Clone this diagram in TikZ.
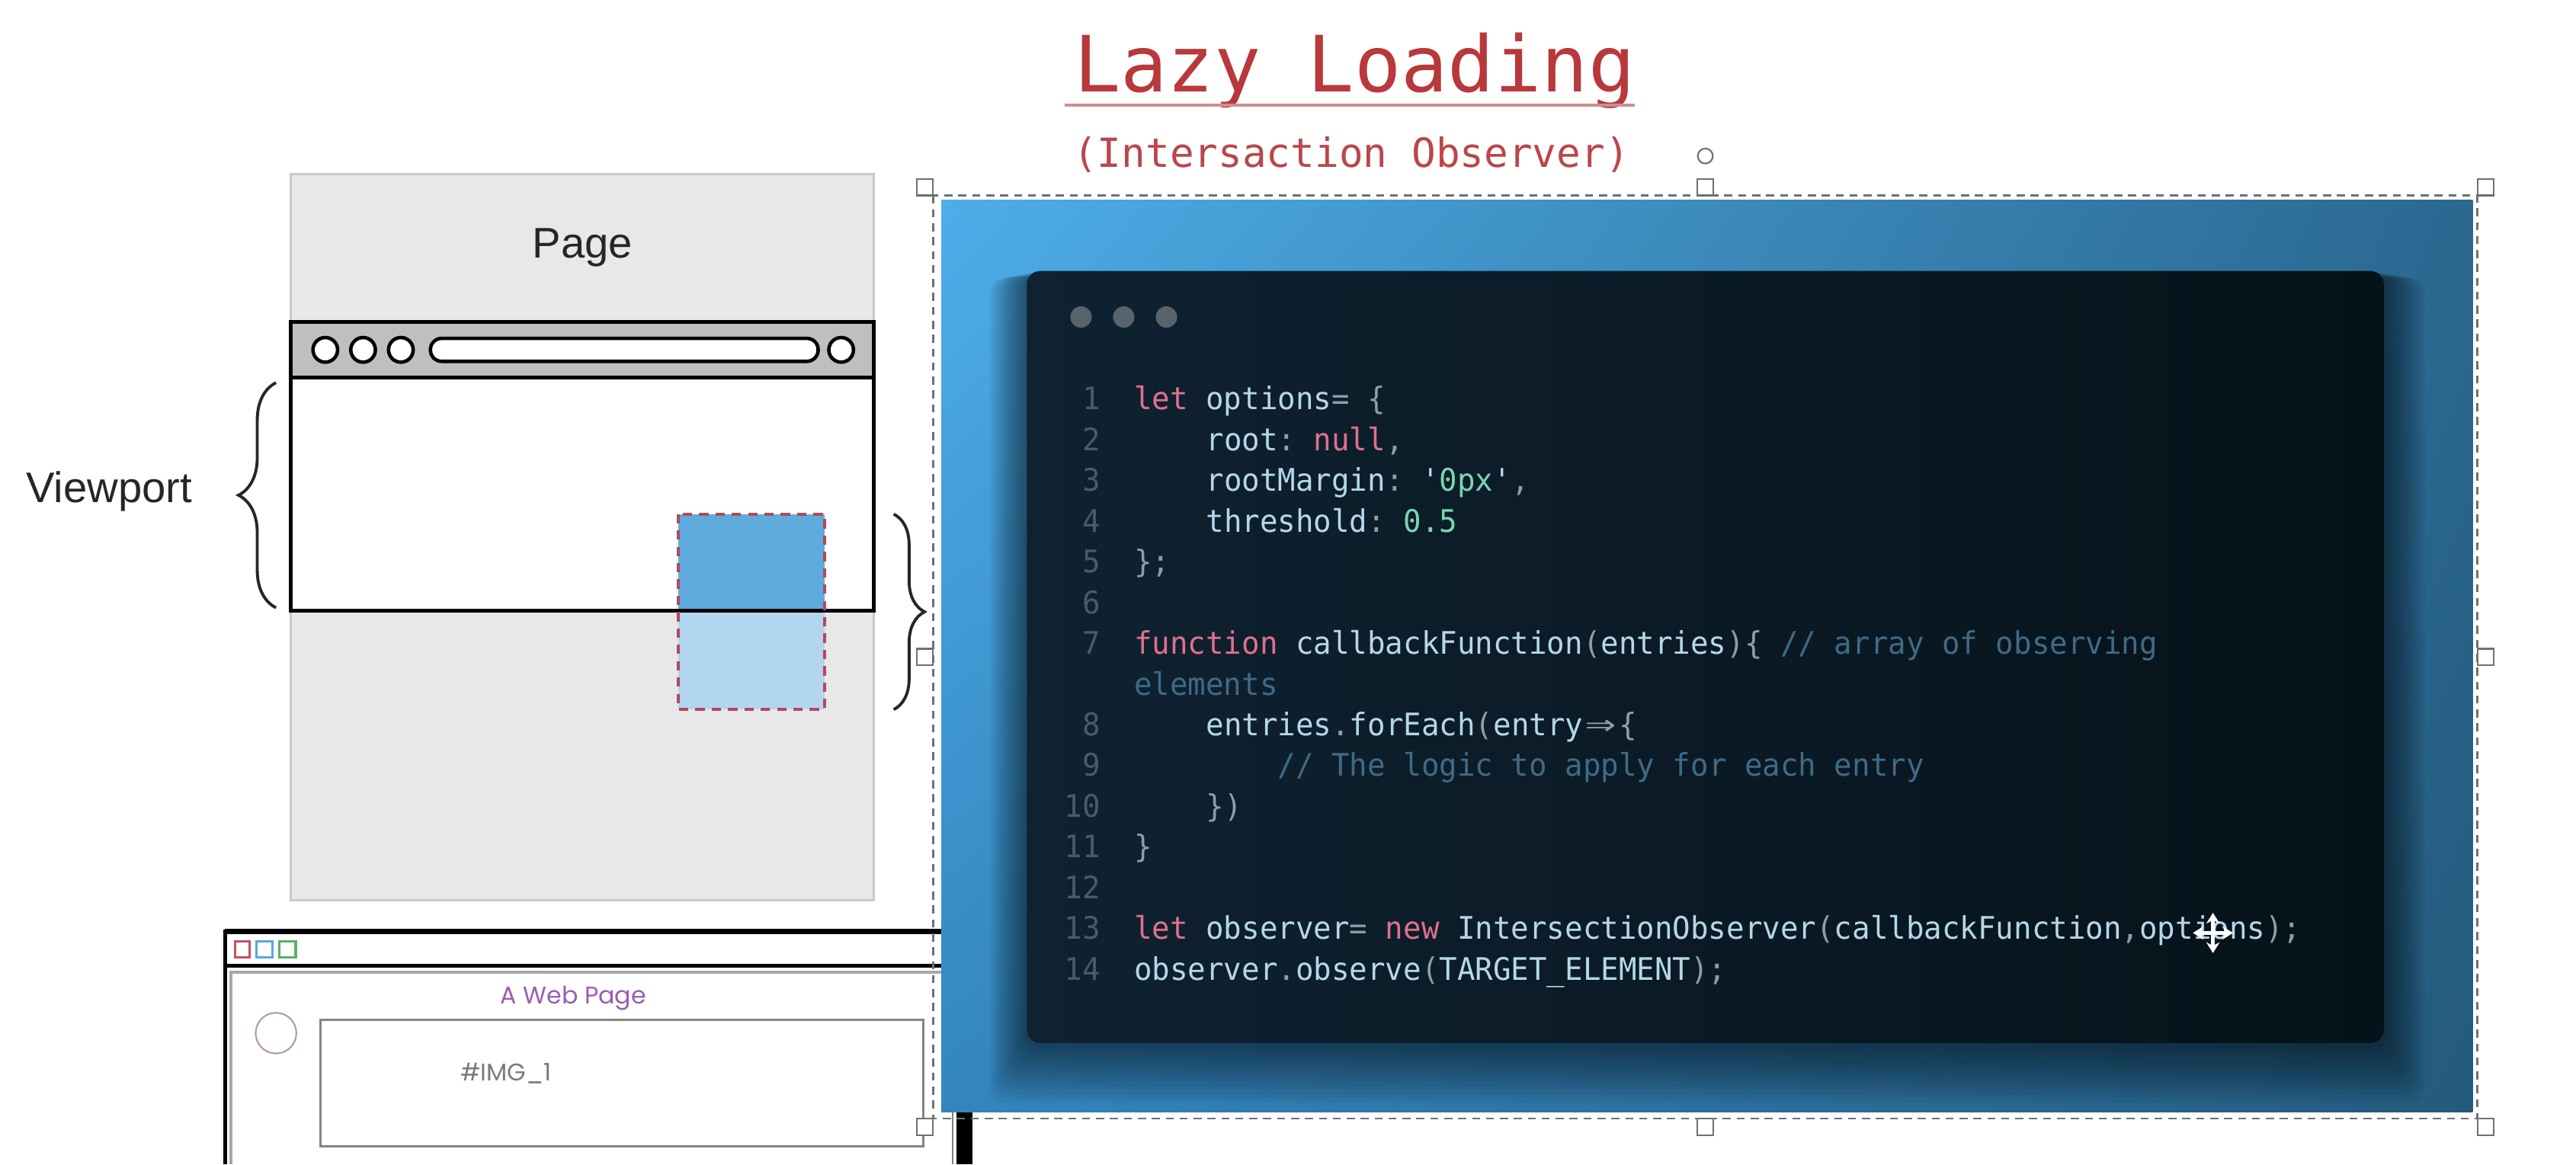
\documentclass[tikz,border=0pt]{standalone}
\usepackage{fontspec}
\usepackage{graphicx}
\usetikzlibrary{decorations.pathreplacing,arrows.meta,shadings}
\newfontfamily\arialf{Liberation Sans}
\newfontfamily\monof{DejaVu Sans Mono}
\newfontfamily\popf{Poppins}
\definecolor{titlered}{HTML}{B8383B}
\definecolor{subred}{HTML}{B9474B}
\definecolor{underl}{HTML}{CC8E90}
\definecolor{pagegray}{HTML}{E8E8E8}
\definecolor{pageedge}{HTML}{C9C9C9}
\definecolor{bargray}{HTML}{BFBFBF}
\definecolor{blueA}{HTML}{5FABDD}
\definecolor{blueB}{HTML}{B2D5F0}
\definecolor{dashred}{HTML}{B4485C}
\definecolor{selgray}{HTML}{707070}
\definecolor{imgTL}{HTML}{4DAEE9}
\definecolor{imgTR}{HTML}{2B6890}
\definecolor{imgBL}{HTML}{3485BE}
\definecolor{imgBR}{HTML}{245A7D}
\definecolor{cardL}{HTML}{0F2231}
\definecolor{cardR}{HTML}{061219}
\definecolor{dotgray}{HTML}{58636C}
\definecolor{ckw}{HTML}{E0708D}
\definecolor{cid}{HTML}{B4D8EA}
\definecolor{cstr}{HTML}{7DD3B0}
\definecolor{cpun}{HTML}{8C9EA9}
\definecolor{ccm}{HTML}{3F6A86}
\definecolor{clnum}{HTML}{4C5A64}
\definecolor{webpurple}{HTML}{9C5CB4}
\definecolor{imggray}{HTML}{858585}
\definecolor{txtgray}{HTML}{7A7A7A}
\definecolor{circbrown}{HTML}{B59C98}
\definecolor{sqred}{HTML}{C8505A}
\definecolor{sqblue}{HTML}{5AA8DC}
\definecolor{sqgreen}{HTML}{5DAF68}
\newcommand\Tkw[1]{\textcolor{ckw}{#1}}
\newcommand\Tpu[1]{\textcolor{cpun}{#1}}
\newcommand\Tst[1]{\textcolor{cstr}{#1}}
\newcommand\Tcm[1]{\textcolor{ccm}{#1}}
\newcommand\codesz{\monof\fontsize{11.6}{14}\selectfont\frenchspacing}
\newcommand\cnd[1]{\scalebox{0.96}[1]{#1}}
\begin{document}
\begin{tikzpicture}[x=0.02156cm,y=-0.02156cm,
  codeln/.style={anchor=base west, inner sep=0pt, font=\codesz, text=cid},
  lnum/.style={anchor=base east, inner sep=0pt, font=\codesz, text=clnum},
  lbl/.style={anchor=base, inner sep=0pt, font=\arialf\fontsize{16}{19}\selectfont, text=black!85},
  handle/.style={draw=selgray, fill=white, line width=0.6pt}]
\useasboundingbox (0,0) rectangle (1568,709);
\fill[white] (0,0) rectangle (1568,709);

% title
\node[anchor=base, inner sep=0pt, font=\monof\fontsize{29}{32}\selectfont, text=titlered] (title) at (824.5,56) {Lazy Loading};
\coordinate (ula) at (648,64);
\coordinate (ulb) at (995,64);
\draw[underl, line width=0.9pt] (ula) -- (ulb);
\node[anchor=base, inner sep=0pt, font=\monof\fontsize{15}{18}\selectfont, text=subred] (subtitle) at (822.5,102) {(Intersaction Observer)};

% left page diagram
\draw[pageedge, fill=pagegray, line width=0.8pt] (177,106) rectangle (532,548);
\node[lbl] (pagelbl) at (354.5,157) {Page};
\draw[black, fill=white, line width=1.4pt] (177,230) rectangle (532,372);
\draw[black, fill=bargray, line width=1.4pt] (177,196) rectangle (532,230);
\foreach \cx in {198,221,244,512} \draw[black, fill=white, line width=1.3pt] (\cx,213) circle[radius=4.6pt];
\draw[black, fill=white, line width=1.3pt, rounded corners=4.2pt] (262,206) rectangle (498,220);
\fill[blueA] (413,313) rectangle (502,372);
\fill[blueB] (413,372) rectangle (502,432);
\draw[black, line width=1.4pt] (177,372) -- (532,372);
\draw[dashred, line width=1.1pt, dash pattern=on 3.5pt off 2.6pt] (413,313) rectangle (502,432);
\draw[black!85, line width=1.1pt, decorate, decoration={brace, amplitude=14pt}] (168,370) -- (168,233);
\draw[black!85, line width=1.1pt, decorate, decoration={brace, amplitude=11.5pt}] (544,313) -- (544,432);
\node[lbl] (vplbl) at (66.5,306) {Viewport};

% web page mockup
\draw[black, line width=1.4pt] (137,566) -- (137,709);
\draw[black, line width=2pt] (137,567) -- (595,567);
\draw[black, line width=1.2pt] (137,588) -- (595,588);
\draw[gray!70, line width=1.3pt] (140.5,709) -- (140.5,592) -- (595,592);
\draw[sqred, line width=0.9pt] (143,573) rectangle (152,583);
\draw[sqblue, line width=0.9pt] (156,573) rectangle (166,583);
\draw[sqgreen, line width=0.9pt] (170,573) rectangle (180,583);
\node[anchor=base, inner sep=0pt, font=\popf\fontsize{9}{11}\selectfont, text=webpurple] (weblbl) at (349,611) {A Web Page};
\draw[circbrown, line width=0.6pt] (168,629) circle[radius=7.6pt];
\draw[imggray, line width=1pt] (195,621) rectangle (562,698);
\node[anchor=base, inner sep=0pt, font=\popf\fontsize{9}{11}\selectfont, text=txtgray] (imglbl) at (308,658) {\#IMG\_1};
\draw[gray, line width=0.6pt] (580,560) -- (580,709);
\fill[black] (582,670) rectangle (592,709);

% selection box and code image
\shade[upper left=imgTL, upper right=imgTR, lower left=imgBL, lower right=imgBR] (573,122) rectangle (1505,677);
\foreach \i in {1,...,14}
  \fill[black, opacity=0.045, rounded corners=6pt] (625-1.6*\i,165+0.3*\i) rectangle (1451+1.8*\i,635+2.6*\i);
\shade[left color=cardL, right color=cardR, rounded corners=5pt] (625,165) rectangle (1451,635);
\foreach \dx in {658,684,710} \fill[dotgray] (\dx,193) circle[radius=4pt];

% line numbers
\node[lnum] (n1) at (670,249.5) {\cnd{1}};
\node[lnum] (n2) at (670,274.3) {\cnd{2}};
\node[lnum] (n3) at (670,299.1) {\cnd{3}};
\node[lnum] (n4) at (670,323.9) {\cnd{4}};
\node[lnum] (n5) at (670,348.7) {\cnd{5}};
\node[lnum] (n6) at (670,373.5) {\cnd{6}};
\node[lnum] (n7) at (670,398.3) {\cnd{7}};
\node[lnum] (n8) at (670,447.9) {\cnd{8}};
\node[lnum] (n9) at (670,472.7) {\cnd{9}};
\node[lnum] (n10) at (670,497.5) {\cnd{10}};
\node[lnum] (n11) at (670,522.3) {\cnd{11}};
\node[lnum] (n12) at (670,547.1) {\cnd{12}};
\node[lnum] (n13) at (670,571.9) {\cnd{13}};
\node[lnum] (n14) at (670,596.7) {\cnd{14}};

% code
\node[codeln] (c1) at (690,249.5) {\cnd{\Tkw{let} options\Tpu{= \{}}};
\node[codeln] (c2) at (733.8,274.3) {\cnd{root\Tpu{:} \Tkw{null}\Tpu{,}}};
\node[codeln] (c3) at (733.8,299.1) {\cnd{rootMargin\Tpu{:} '\Tst{0px}'\Tpu{,}}};
\node[codeln] (c4) at (733.8,323.9) {\cnd{threshold\Tpu{:} \Tst{0.5}}};
\node[codeln] (c5) at (690,348.7) {\cnd{\Tpu{\};}}};
\node[codeln] (c7) at (690,398.3) {\cnd{\Tkw{function} callbackFunction\Tpu{(}entries\Tpu{)\{} \Tcm{// array of observing}}};
\node[codeln] (c7b) at (690,423.1) {\cnd{\Tcm{elements}}};
\node[codeln] (c8) at (733.8,447.9) {\cnd{entries\Tpu{.}forEach\Tpu{(}entry\Tpu{\makebox[1.204em][c]{\scalebox{1.7}[1.15]{⇒}}\{}}};
\node[codeln] (c9) at (777.5,472.7) {\cnd{\Tcm{// The logic to apply for each entry}}};
\node[codeln] (c10) at (733.8,497.5) {\cnd{\Tpu{\})}}};
\node[codeln] (c11) at (690,522.3) {\cnd{\Tpu{\}}}};
\node[codeln] (c13) at (690,571.9) {\cnd{\Tkw{let} observer\Tpu{=} \Tkw{new} IntersectionObserver\Tpu{(}callbackFunction\Tpu{,}options\Tpu{);}}};
\node[codeln] (c14) at (690,596.7) {\cnd{observer\Tpu{.}observe\Tpu{(}TARGET\_ELEMENT\Tpu{);}}};

% move cursor
\coordinate (mv) at (1347,568);
\draw[white, line width=1.4pt, {Stealth[length=4pt,width=5pt]}-{Stealth[length=4pt,width=5pt]}] ([xshift=-7.5pt]mv) -- ([xshift=7.5pt]mv);
\draw[white, line width=1.4pt, {Stealth[length=4pt,width=5pt]}-{Stealth[length=4pt,width=5pt]}] ([yshift=-7.5pt]mv) -- ([yshift=7.5pt]mv);

\draw[selgray, line width=0.7pt, dash pattern=on 3pt off 2.2pt] (568,119) rectangle (1508,681);
\foreach \hx/\hy in {558/109, 1033/109, 1508/109, 1508/395, 1508/681, 1033/681, 558/681, 558/395}
  \draw[handle] (\hx,\hy) rectangle ++(10,10);
\draw[handle] (1038,95) circle[radius=2.8pt];
\end{tikzpicture}
\end{document}
